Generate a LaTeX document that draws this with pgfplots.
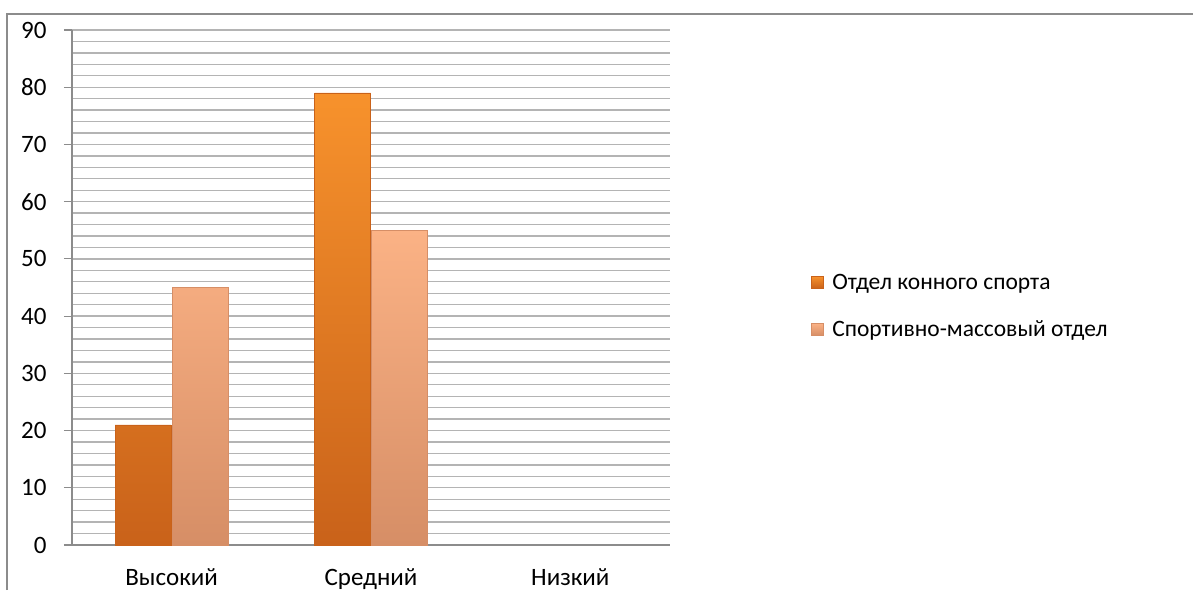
\documentclass[border=0pt]{standalone}
\usepackage{pgfplots}
\pgfplotsset{compat=1.18}
\usepackage{fontspec}
\setmainfont{Carlito}

\definecolor{gridgray}{HTML}{B4B4B4}
\definecolor{axgray}{HTML}{8C8C8C}
\definecolor{orTop}{HTML}{F7922C}
\definecolor{orBot}{HTML}{C9621A}
\definecolor{peTop}{HTML}{FBB285}
\definecolor{peBot}{HTML}{D68E66}

\begin{document}
\begin{tikzpicture}[x=1pt,y=1pt]
\useasboundingbox (0,-590) rectangle (1193,0);
% chart frame (only top and left edges visible)
\draw[axgray, line width=1.2pt] (7,-590) -- (7,-14) -- (1193,-14);

\begin{axis}[
  at = {(72pt,-545pt)},
  anchor = south west,
  scale only axis,
  width = 598pt,
  height = 515pt,
  xmin = -0.5, xmax = 2.5,
  ymin = 0, ymax = 90,
  ybar,
  bar width = 56pt,
  axis lines* = left,
  axis line style = {axgray, line width=1.2pt, -},
  xtick = {0,1,2},
  xticklabels = {Высокий, Средний, Низкий},
  x tick style = {draw=none},
  extra x ticks = {-0.5,0.5,1.5,2.5},
  extra x tick labels = {},
  extra x tick style = {tick style={axgray, line width=1.2pt}, major tick length=8pt, tick align=outside, grid=none},
  xticklabel style = {font=\fontsize{25}{30}\selectfont, yshift=-12pt},
  ytick = {0,10,...,90},
  minor y tick num = 4,
  ymajorgrids, yminorgrids,
  grid style = {gridgray, line width=1.3pt},
  minor grid style = {gridgray, line width=1.3pt},
  y tick style = {axgray, line width=1.2pt},
  major tick length = 8pt,
  minor tick length = 0pt,
  tick align = outside,
  yticklabel style = {font=\fontsize{25}{30}\selectfont, xshift=-14pt},
  /pgf/number format/assume math mode=true,
  legend style = {draw=none, at={(1.231,0.464)}, anchor=west,
    font=\fontsize{23.5}{28}\selectfont, row sep=26pt,
    nodes={inner xsep=8.5pt}},
  legend cell align = left,
  legend image code/.code = {\fill[#1] (0pt,-6pt) rectangle (12pt,6pt);},
]
\addplot[draw=orBot, top color=orTop, bottom color=orBot, bar shift=-28.5pt] coordinates {(0,21) (1,79)};
\addplot[draw=peBot, top color=peTop, bottom color=peBot, bar shift=28.5pt] coordinates {(0,45) (1,55)};
\legend{Отдел конного спорта, Спортивно-массовый отдел}
\end{axis}
\end{tikzpicture}
\end{document}
